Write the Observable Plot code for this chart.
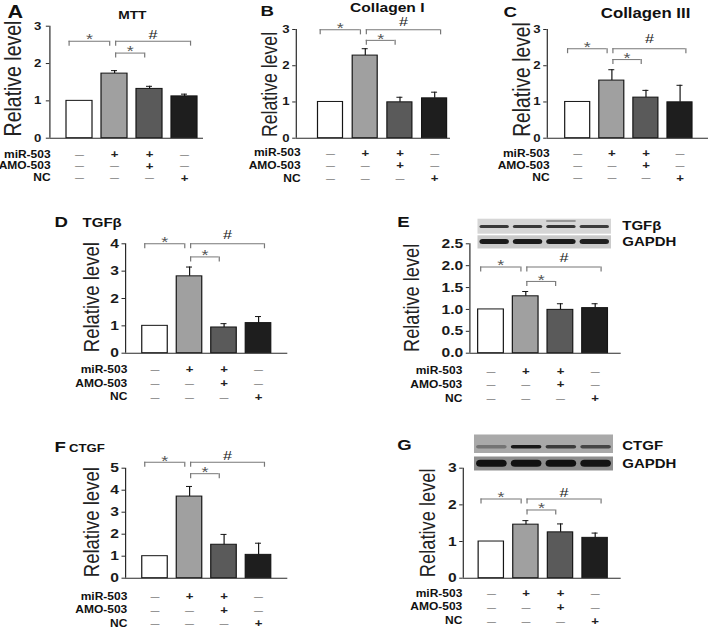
<!DOCTYPE html>
<html>
<head>
<meta charset="utf-8">
<script src="https://cdn.jsdelivr.net/npm/d3@7"></script>
<script src="https://cdn.jsdelivr.net/npm/@observablehq/plot@0.6"></script>
<style>
  html, body { margin: 0; padding: 0; background: #ffffff; }
  #fig { position: absolute; left: 0; top: 0; width: 590.83px; height: 629px; transform: scaleX(1.2); transform-origin: 0 0; overflow: visible; }
  #fig svg { position: absolute; left: 0; top: 0; }
</style>
</head>
<body>
<div id="fig"></div>
<script>
// ---------------- DATA ----------------
const groups = ["Control", "miR-503", "miR-503 + AMO-503", "NC"];
const barFills = ["#ffffff", "#a0a0a0", "#5a5a5a", "#1e1e1e"];
const rowLabels = ["miR-503", "AMO-503", "NC"];
const rowMiR503 = ["—", "+", "+", "—"];
const rowAMO503 = ["—", "—", "+", "—"];
const rowNC     = ["—", "—", "—", "+"];
const comparisonFrom  = [1, 2, 2];
const comparisonTo    = [2, 4, 3];
const comparisonMarks = ["*", "#", "*"];

const mttValues = [1.00, 1.73, 1.32, 1.12];
const mttErrors = [0, 0.08, 0.07, 0.06];
const mttTicks = [0, 1, 2, 3];
const mttBrackets = [2.60, 2.60, 2.28];

const col1Values = [1.00, 2.28, 0.99, 1.10];
const col1Errors = [0, 0.19, 0.14, 0.17];
const col1Ticks = [0, 1, 2, 3];
const col1Brackets = [2.99, 2.99, 2.70];

const col3Values = [1.00, 1.59, 1.12, 0.99];
const col3Errors = [0, 0.30, 0.20, 0.47];
const col3Ticks = [0, 1, 2, 3];
const col3Brackets = [2.47, 2.47, 2.17];

const tgfMrnaValues = [1.00, 2.81, 0.94, 1.10];
const tgfMrnaErrors = [0, 0.34, 0.14, 0.24];
const tgfMrnaTicks = [0, 1, 2, 3, 4];
const tgfMrnaBrackets = [4.00, 4.00, 3.52];

const tgfProtValues = [1.00, 1.30, 0.99, 1.03];
const tgfProtErrors = [0, 0.11, 0.14, 0.10];
const tgfProtTicks = [0, 0.5, 1.0, 1.5, 2.0, 2.5];
const tgfProtBrackets = [1.97, 1.97, 1.64];

const ctgfMrnaValues = [1.00, 3.71, 1.52, 1.06];
const ctgfMrnaErrors = [0, 0.46, 0.47, 0.53];
const ctgfMrnaTicks = [0, 1, 2, 3, 4, 5];
const ctgfMrnaBrackets = [5.27, 5.27, 4.75];

const ctgfProtValues = [1.00, 1.46, 1.25, 1.10];
const ctgfProtErrors = [0, 0.11, 0.23, 0.13];
const ctgfProtTicks = [0, 1, 2, 3];
const ctgfProtBrackets = [2.16, 2.16, 1.86];

// western blot band intensities (0..1), one per lane
const blotTgfBand   = [0.80, 0.80, 0.82, 0.78];
const blotTgfUpper  = [0, 0, 0.35, 0];
const blotGapdhE    = [0.95, 0.95, 0.95, 0.92];
const blotCtgfBand  = [0.35, 0.95, 0.72, 0.66];
const blotGapdhG    = [1, 1, 1, 0.97];

// ---------------- RENDERING ----------------
const K = 1.2;                      // horizontal stretch of the original figure
const W = 709 / K, H = 629;
const FONT = "'Liberation Sans', Arial, Helvetica, sans-serif";
const fig = document.getElementById("fig");
const fmtInt = d3.format("d"), fmt1 = d3.format(".1f");

function makePlot(marks, xDomain, xRange, yDomain, yRange) {
  const svg = Plot.plot({
    width: W, height: H,
    marginTop: 0, marginRight: 0, marginBottom: 0, marginLeft: 0,
    x: {type: "linear", domain: xDomain, range: xRange, axis: null},
    y: {type: "linear", domain: yDomain, range: yRange, axis: null},
    color: {type: "identity"},
    style: {background: "transparent", overflow: "visible", fontFamily: FONT},
    marks
  });
  svg.style.position = "absolute"; svg.style.left = "0px"; svg.style.top = "0px";
  svg.style.maxWidth = "none";
  fig.appendChild(svg);
  return svg;
}

function drawPanel(p) {
  const ppu = (p.y0 - p.yTop) / p.ymax;
  const toU = px => (px - p.c1) / p.step + 1;
  const toV = py => (p.y0 - py) / ppu;
  const xlo = toU(p.axisX), xhi = toU(p.rightX);
  const rows = groups.map((g, i) => ({i: i + 1, v: p.values[i], e: p.errors[i], fill: barFills[i]}));
  const withErr = rows.filter(d => d.e > 0);
  const hw = p.barW / 2 / p.step, cap = 3 / p.step, tick = 3.5 / p.step;
  const br = comparisonFrom.map((f, j) => {
    const t = comparisonTo[j];
    return {x1: f + (f === 1 ? -0.3 : 0.03), x2: t + (t - f > 1 ? 0.17 : -0.14), y: p.brackets[j], m: comparisonMarks[j]};
  });
  const drop = 5 / ppu;
  const ink = "#1a1a1a", grey = "#777777";
  const marks = [
    Plot.rect(rows, {x1: d => d.i - hw, x2: d => d.i + hw, y1: 0, y2: "v", fill: "fill", stroke: "#151515", strokeWidth: 1}),
    Plot.ruleX(withErr, {x: "i", y1: "v", y2: d => d.v + d.e, stroke: "#151515"}),
    Plot.ruleY(withErr, {y: d => d.v + d.e, x1: d => d.i - cap, x2: d => d.i + cap, stroke: "#151515"}),
    Plot.ruleY([0], {x1: xlo, x2: xhi, stroke: "#2a2a2a"}),
    Plot.ruleX([xlo], {y1: 0, y2: p.ymax, stroke: "#2a2a2a"}),
    Plot.ruleY(p.ticks, {y: d => d, x1: xlo - tick, x2: xlo, stroke: "#2a2a2a"}),
    Plot.text(p.ticks, {x: xlo, y: d => d, text: d => p.fmt(d), textAnchor: "end", dx: p.tickDx / K,
      fontSize: p.tickSize, fontWeight: "bold", fill: ink}),
    Plot.text(["Relative level"], {x: toU(p.labelX), y: toV(p.labelY), text: d => d, rotate: -90,
      fontSize: p.labelSize, fill: "#222"}),
    Plot.ruleY(br, {y: "y", x1: "x1", x2: "x2", stroke: grey}),
    Plot.ruleX(br.flatMap(b => [{x: b.x1, y: b.y}, {x: b.x2, y: b.y}]), {x: "x", y1: "y", y2: d => d.y - drop, stroke: grey}),
    Plot.text(br.filter(b => b.m === "*"), {x: d => (d.x1 + d.x2) / 2, y: "y", text: "m", dy: -1.5, fontSize: 15, fill: "#555"}),
    Plot.text(br.filter(b => b.m === "#"), {x: d => (d.x1 + d.x2) / 2, y: "y", text: "m", dy: -p.hashDy, fontSize: 13.5, fill: "#1a1a1a"}),
    Plot.text([p.letter], {x: toU(p.letterX), y: toV(p.letterY), text: d => d, textAnchor: "start", lineAnchor: "bottom",
      fontSize: p.letterSize, fontWeight: "bold", fill: "#111"})
  ];
  if (p.title) {
    marks.push(Plot.text([p.title], {x: toU(p.titleX), y: toV(p.titleY), text: d => d, textAnchor: p.titleAnchor,
      lineAnchor: "bottom", fontSize: p.titleSize, fontWeight: "bold", fill: "#111"}));
  }
  [rowMiR503, rowAMO503, rowNC].forEach((row, r) => {
    const cells = row.map((s, i) => ({i: i + 1, s}));
    marks.push(Plot.text(cells.filter(d => d.s === "—"), {x: "i", y: 0, text: "s", dy: p.rowDy[r], fontSize: 7.5, fill: "#444"}));
    marks.push(Plot.text(cells.filter(d => d.s === "+"), {x: "i", y: 0, text: "s", dy: p.rowDy[r], fontSize: 11, fontWeight: "bold", fill: "#222"}));
    marks.push(Plot.text([rowLabels[r]], {x: toU(p.rowRight), y: 0, text: d => d, textAnchor: "end", dy: p.rowDy[r],
      fontSize: 10, fontWeight: "bold", fill: "#111"}));
  });
  makePlot(marks, [xlo, xhi], [p.axisX / K, p.rightX / K], [0, p.ymax], [p.y0, p.yTop]);
}

let blurCount = 0;
function drawBlot(b) {
  const lanes = b.bands.map((v, k) => ({k: k + 0.5, v}));
  const h = b.y2 - b.y1;
  const toV = py => (b.y2 - py) / h;
  const bc = toV(b.bandY), bh = b.bandH / h;
  const marks = [
    Plot.rect([0], {x1: 0, x2: 4, y1: 0, y2: 1, fill: b.bg}),
    Plot.rect(lanes, {x1: d => d.k - 0.44, x2: d => d.k + 0.44, y1: bc - bh / 2, y2: bc + bh / 2,
      fill: "#111", fillOpacity: d => d.v, rx: b.bandH / 2, ariaLabel: "band"})
  ];
  if (b.extra) {
    const ec = toV(b.extra.y), eh = b.extra.h / h;
    marks.push(Plot.rect(b.extra.bands.map((v, k) => ({k: k + 0.5, v})).filter(d => d.v > 0),
      {x1: d => d.k - 0.44, x2: d => d.k + 0.44, y1: ec - eh / 2, y2: ec + eh / 2, fill: "#111", fillOpacity: d => d.v, ariaLabel: "band"}));
  }
  const px2u = px => (px - b.x1) / (b.x2 - b.x1) * 4;
  marks.push(Plot.text([b.label], {x: px2u(b.labelX), y: toV(b.labelY), text: d => d, textAnchor: "start", lineAnchor: "bottom",
    fontSize: 12.5, fontWeight: "bold", fill: "#111"}));
  const svg = makePlot(marks, [0, 4], [b.x1 / K, b.x2 / K], [0, 1], [b.y2, b.y1]);
  // soften bands like a scanned blot
  const ns = "http://www.w3.org/2000/svg";
  const id = "blur" + (blurCount++);
  const defs = document.createElementNS(ns, "defs");
  const f = document.createElementNS(ns, "filter");
  f.setAttribute("id", id); f.setAttribute("x", "-20%"); f.setAttribute("y", "-200%");
  f.setAttribute("width", "140%"); f.setAttribute("height", "500%");
  const gb = document.createElementNS(ns, "feGaussianBlur"); gb.setAttribute("stdDeviation", "0.9");
  f.appendChild(gb); defs.appendChild(f); svg.insertBefore(defs, svg.firstChild);
  svg.querySelectorAll('g[aria-label="band"]').forEach(g => g.setAttribute("filter", `url(#${id})`));
}

// ---------------- LAYOUT ----------------
drawPanel({letter: "A", letterX: 7, letterY: 18, letterSize: 18,
  title: "MTT", titleX: 131.7, titleY: 18.5, titleSize: 11.5, titleAnchor: "middle",
  axisX: 49.3, rightX: 203, c1: 79, step: 35, barW: 26, y0: 137.7, yTop: 25.7, ymax: 3,
  values: mttValues, errors: mttErrors, ticks: mttTicks, brackets: mttBrackets, fmt: fmtInt, tickSize: 11,
  labelX: 13, labelY: 78, labelSize: 19.5, tickDx: -8.5, rowRight: 50, rowDy: [16.3, 27.8, 39.8], hashDy: 6.5});

drawPanel({letter: "B", letterX: 260, letterY: 16, letterSize: 15.5,
  title: "Collagen I", titleX: 386.7, titleY: 12, titleSize: 13, titleAnchor: "middle",
  axisX: 295.7, rightX: 450, c1: 330, step: 34.7, barW: 25, y0: 137.7, yTop: 29, ymax: 3,
  values: col1Values, errors: col1Errors, ticks: col1Ticks, brackets: col1Brackets, fmt: fmtInt, tickSize: 11,
  labelX: 270, labelY: 84, labelSize: 17.7, tickDx: -6.7, rowRight: 300, rowDy: [15, 27.3, 40.6], hashDy: 8.5});

drawPanel({letter: "C", letterX: 503, letterY: 17, letterSize: 15.5,
  title: "Collagen III", titleX: 645, titleY: 18, titleSize: 14, titleAnchor: "middle",
  axisX: 546.7, rightX: 708, c1: 577.2, step: 34.1, barW: 25, y0: 137.7, yTop: 29, ymax: 3,
  values: col3Values, errors: col3Errors, ticks: col3Ticks, brackets: col3Brackets, fmt: fmtInt, tickSize: 11,
  labelX: 521.7, labelY: 79, labelSize: 19.3, tickDx: -6.7, rowRight: 549, rowDy: [15.6, 27.3, 39.8], hashDy: 10});

drawPanel({letter: "D", letterX: 54, letterY: 226.7, letterSize: 15.5,
  title: "TGFβ", titleX: 82, titleY: 226.5, titleSize: 12.5, titleAnchor: "start",
  axisX: 125, rightX: 287.3, c1: 154.5, step: 34.5, barW: 25.5, y0: 352.7, yTop: 243.3, ymax: 4,
  values: tgfMrnaValues, errors: tgfMrnaErrors, ticks: tgfMrnaTicks, brackets: tgfMrnaBrackets, fmt: fmtInt, tickSize: 13,
  labelX: 91.7, labelY: 296.7, labelSize: 18.5, tickDx: -6.7, rowRight: 126.7, rowDy: [16.6, 30.3, 44], hashDy: 9.5});

drawPanel({letter: "E", letterX: 396.7, letterY: 226.7, letterSize: 15.5,
  title: null,
  axisX: 469.3, rightX: 620.7, c1: 490.5, step: 34.7, barW: 25.7, y0: 352.7, yTop: 243.3, ymax: 2.5,
  values: tgfProtValues, errors: tgfProtErrors, ticks: tgfProtTicks, brackets: tgfProtBrackets, fmt: fmt1, tickSize: 13,
  labelX: 411.7, labelY: 297.4, labelSize: 18.2, tickDx: -6.6, rowRight: 461.7, rowDy: [18, 31.3, 45.6], hashDy: 9});

drawPanel({letter: "F", letterX: 54, letterY: 451.7, letterSize: 15.5,
  title: "CTGF", titleX: 68.3, titleY: 451.5, titleSize: 11, titleAnchor: "start",
  axisX: 125, rightX: 287.3, c1: 154.5, step: 34.5, barW: 25.5, y0: 577.7, yTop: 467.7, ymax: 5,
  values: ctgfMrnaValues, errors: ctgfMrnaErrors, ticks: ctgfMrnaTicks, brackets: ctgfMrnaBrackets, fmt: fmtInt, tickSize: 13,
  labelX: 91.7, labelY: 521.7, labelSize: 18.5, tickDx: -6.7, rowRight: 126.7, rowDy: [18.5, 32, 45.5], hashDy: 7});

drawPanel({letter: "G", letterX: 396.7, letterY: 450, letterSize: 15.5,
  title: null,
  axisX: 462.7, rightX: 620.7, c1: 490.8, step: 34.6, barW: 25.3, y0: 577.7, yTop: 467.7, ymax: 3,
  values: ctgfProtValues, errors: ctgfProtErrors, ticks: ctgfProtTicks, brackets: ctgfProtBrackets, fmt: fmtInt, tickSize: 13,
  labelX: 427.3, labelY: 522.3, labelSize: 18.3, tickDx: -6.7, rowRight: 461.7, rowDy: [15.6, 29, 43], hashDy: 6.3});

drawBlot({x1: 477.5, x2: 611, y1: 218.7, y2: 233.7, bg: "#d6d6d6", bandY: 226.5, bandH: 3, bands: blotTgfBand,
  extra: {y: 221, h: 1.8, bands: blotTgfUpper}, label: "TGFβ", labelX: 621.7, labelY: 229.5});
drawBlot({x1: 477.5, x2: 611, y1: 235.3, y2: 248.5, bg: "#cacaca", bandY: 241.6, bandH: 5, bands: blotGapdhE,
  label: "GAPDH", labelX: 621.7, labelY: 246});
drawBlot({x1: 474, x2: 613, y1: 434.5, y2: 453, bg: "#a9a9a9", bandY: 446.8, bandH: 3.5, bands: blotCtgfBand,
  label: "CTGF", labelX: 621.7, labelY: 450});
drawBlot({x1: 474, x2: 613, y1: 456.5, y2: 470.5, bg: "#8e8e8e", bandY: 463.3, bandH: 7, bands: blotGapdhG,
  label: "GAPDH", labelX: 621.7, labelY: 467.5});
</script>
</body>
</html>
